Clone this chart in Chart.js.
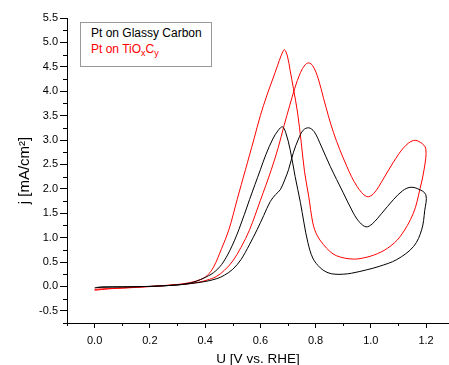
<!DOCTYPE html>
<html lang="en">
<head>
    <meta charset="UTF-8">
    <title>Pt CV</title>
    <script src="https://cdn.jsdelivr.net/npm/chart.js"></script>
    <style>
        * { margin: 0; padding: 0; box-sizing: border-box; }
        body { background: #fff; overflow: hidden; font-family: 'Liberation Sans', Arial, sans-serif; }
        .wrap { position: relative; width: 449px; height: 365px; }
        .legend {
            position: absolute; left: 80px; top: 22px; width: 132px; height: 45px;
            border: 1px solid #999; background: #fff;
            padding: 3px 0 0 10px; font-size: 12px; line-height: 15.5px;
        }
        .legend .red { color: #ff0000; }
        .legend .s { font-size: 9px; line-height: 0; vertical-align: -3px; }
    </style>
</head>
<body>
    <div class="wrap">
        <canvas id="cv" width="449" height="365"></canvas>
        <div class="legend">
            <div>Pt on Glassy Carbon</div>
            <div class="red">Pt on TiO<span class="s">x</span>C<span class="s">y</span></div>
        </div>
    </div>

    <script>
        // Pt on glassy carbon (black): anodic sweep, then cathodic sweep
        const gcForwardU = [0.00, 0.03, 0.10, 0.20, 0.30, 0.35, 0.40, 0.443, 0.47, 0.50, 0.53, 0.56, 0.588, 0.612, 0.636, 0.655, 0.672, 0.688, 0.702, 0.72, 0.738, 0.755, 0.775, 0.795, 0.82, 0.853, 0.90, 0.937, 0.96, 0.983, 1.005, 1.04, 1.082, 1.115, 1.142, 1.17, 1.199];
        const gcForwardJ = [-0.03, -0.01, -0.01, 0.00, 0.03, 0.06, 0.10, 0.16, 0.23, 0.35, 0.55, 0.85, 1.16, 1.45, 1.74, 1.88, 1.98, 2.18, 2.39, 2.75, 3.02, 3.20, 3.25, 3.17, 2.88, 2.46, 1.92, 1.50, 1.31, 1.22, 1.28, 1.50, 1.78, 1.96, 2.03, 2.00, 1.88];
        const gcReverseU = [1.195, 1.184, 1.155, 1.094, 1.03, 0.985, 0.93, 0.90, 0.87, 0.845, 0.817, 0.79, 0.772, 0.758, 0.745, 0.726, 0.708, 0.692, 0.68, 0.665, 0.645, 0.62, 0.60, 0.561, 0.522, 0.49, 0.46, 0.43, 0.395, 0.37, 0.347, 0.30, 0.20, 0.10, 0.01];
        const gcReverseJ = [1.55, 1.16, 0.82, 0.55, 0.41, 0.34, 0.27, 0.25, 0.25, 0.28, 0.38, 0.58, 0.90, 1.30, 1.72, 2.25, 2.80, 3.15, 3.27, 3.20, 3.02, 2.70, 2.39, 1.78, 1.16, 0.74, 0.45, 0.28, 0.17, 0.11, 0.07, 0.03, 0.00, -0.01, -0.02];

        // Pt on TiOxCy (red)
        const tiForwardU = [0.00, 0.05, 0.12, 0.24, 0.335, 0.38, 0.407, 0.44, 0.47, 0.50, 0.53, 0.561, 0.60, 0.639, 0.665, 0.686, 0.706, 0.724, 0.745, 0.762, 0.775, 0.79, 0.81, 0.829, 0.865, 0.913, 0.95, 0.985, 1.01, 1.045, 1.08, 1.12, 1.154, 1.18, 1.199];
        const tiForwardJ = [-0.08, -0.05, -0.03, 0.01, 0.05, 0.09, 0.13, 0.20, 0.33, 0.52, 0.80, 1.16, 1.76, 2.38, 2.85, 3.30, 3.70, 4.05, 4.38, 4.54, 4.58, 4.52, 4.25, 3.85, 3.15, 2.46, 2.05, 1.84, 1.90, 2.20, 2.53, 2.85, 2.99, 2.95, 2.82];
        const tiReverseU = [1.193, 1.178, 1.154, 1.106, 1.06, 1.01, 0.961, 0.937, 0.905, 0.875, 0.853, 0.828, 0.805, 0.79, 0.775, 0.76, 0.748, 0.735, 0.72, 0.708, 0.698, 0.687, 0.676, 0.662, 0.645, 0.624, 0.60, 0.576, 0.546, 0.516, 0.486, 0.46, 0.431, 0.407, 0.383, 0.347, 0.30, 0.20, 0.10, 0.00];
        const tiReverseJ = [2.40, 2.00, 1.50, 1.02, 0.78, 0.64, 0.57, 0.56, 0.58, 0.63, 0.71, 0.86, 1.05, 1.30, 1.85, 2.35, 2.95, 3.55, 4.05, 4.42, 4.72, 4.85, 4.74, 4.52, 4.25, 3.92, 3.50, 3.00, 2.39, 1.78, 1.16, 0.78, 0.40, 0.22, 0.14, 0.08, 0.04, 0.00, -0.03, -0.06];

        // minor tick positions (major ones come from the axes)
        const xMinorTicks = [-0.1, 0.1, 0.3, 0.5, 0.7, 0.9, 1.1];
        const yMinorTicks = [-0.75, -0.25, 0.25, 0.75, 1.25, 1.75, 2.25, 2.75, 3.25, 3.75, 4.25, 4.75, 5.25];

        function loop(fu, fj, ru, rj) {
            const pts = fu.map((u, i) => ({ x: u, y: fj[i] }));
            return pts.concat(ru.map((u, i) => ({ x: u, y: rj[i] })));
        }

        const minorTicks = {
            id: 'minorTicks',
            afterDraw(chart) {
                const { ctx, scales: { x, y } } = chart;
                ctx.save();
                ctx.strokeStyle = '#000';
                ctx.lineWidth = 1;
                ctx.beginPath();
                xMinorTicks.forEach(v => {
                    const px = Math.round(x.getPixelForValue(v)) + 0.5;
                    ctx.moveTo(px, y.bottom);
                    ctx.lineTo(px, y.bottom + 3);
                });
                yMinorTicks.forEach(v => {
                    const py = Math.round(y.getPixelForValue(v)) + 0.5;
                    ctx.moveTo(x.left - 4, py);
                    ctx.lineTo(x.left, py);
                });
                ctx.stroke();
                ctx.restore();
            }
        };

        const font = "'Liberation Sans', Arial, sans-serif";

        new Chart(document.getElementById('cv'), {
            type: 'scatter',
            data: {
                datasets: [{
                    label: 'Pt on Glassy Carbon',
                    data: loop(gcForwardU, gcForwardJ, gcReverseU, gcReverseJ),
                    borderColor: '#000000',
                    borderWidth: 1,
                    showLine: true,
                    pointRadius: 0,
                    tension: 0.35
                }, {
                    label: 'Pt on TiOxCy',
                    data: loop(tiForwardU, tiForwardJ, tiReverseU, tiReverseJ),
                    borderColor: '#ff0000',
                    borderWidth: 1,
                    showLine: true,
                    pointRadius: 0,
                    tension: 0.35
                }]
            },
            options: {
                responsive: false,
                animation: false,
                layout: { padding: { top: 18, right: 0, bottom: 0, left: 0 } },
                plugins: { legend: { display: false }, tooltip: { enabled: false } },
                scales: {
                    x: {
                        type: 'linear',
                        min: -0.1,
                        max: 1.283,
                        afterFit: s => { s.height = 42; },
                        border: { display: true, color: '#000', width: 1 },
                        grid: { drawOnChartArea: false, drawTicks: true, tickLength: 5, tickColor: '#000' },
                        ticks: {
                            stepSize: 0.2, includeBounds: false, autoSkip: false, maxRotation: 0,
                            padding: 6, color: '#000', font: { family: font, size: 11 },
                            callback: v => v.toFixed(1)
                        },
                        title: {
                            display: true, text: 'U [V vs. RHE]', color: '#000',
                            font: { family: font, size: 13.5, lineHeight: 0.8 }, padding: 0
                        }
                    },
                    y: {
                        type: 'linear',
                        min: -0.75,
                        max: 5.5,
                        afterFit: s => { s.width = 67; },
                        border: { display: true, color: '#000', width: 1 },
                        grid: { drawOnChartArea: false, drawTicks: true, tickLength: 7, tickColor: '#000' },
                        ticks: {
                            stepSize: 0.5, includeBounds: false, autoSkip: false,
                            padding: 2, color: '#000', font: { family: font, size: 11 },
                            callback: v => v.toFixed(1)
                        },
                        title: {
                            display: true, text: 'j [mA/cm²]', color: '#000',
                            font: { family: font, size: 15, lineHeight: 1 }, padding: { top: 17, bottom: 0 }
                        }
                    }
                }
            },
            plugins: [minorTicks]
        });
    </script>
</body>
</html>
